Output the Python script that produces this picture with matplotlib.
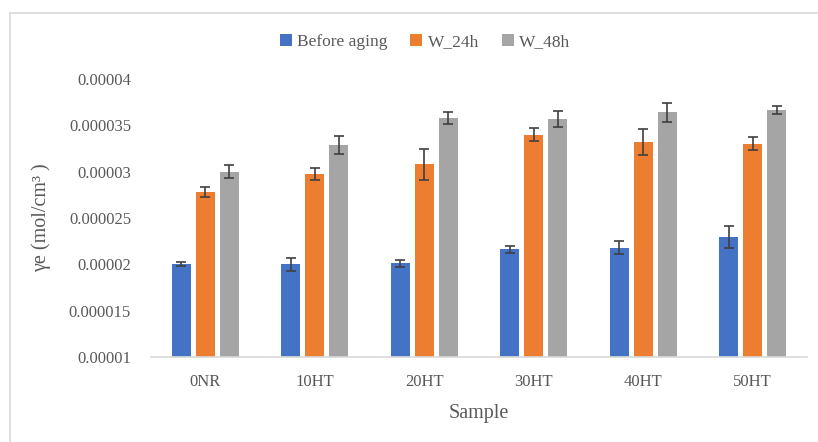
import matplotlib.pyplot as plt
import numpy as np
from matplotlib.patches import Rectangle

samples = ['0NR', '10HT', '20HT', '30HT', '40HT', '50HT']
before = [2.00e-5, 2.00e-5, 2.01e-5, 2.165e-5, 2.18e-5, 2.295e-5]
before_err = [0.2e-6, 0.7e-6, 0.4e-6, 0.38e-6, 0.7e-6, 1.24e-6]
w24 = [2.78e-5, 2.975e-5, 3.08e-5, 3.40e-5, 3.32e-5, 3.30e-5]
w24_err = [0.54e-6, 0.65e-6, 1.67e-6, 0.7e-6, 1.45e-6, 0.7e-6]
w48 = [3.00e-5, 3.29e-5, 3.58e-5, 3.57e-5, 3.64e-5, 3.665e-5]
w48_err = [0.7e-6, 1.0e-6, 0.65e-6, 0.9e-6, 1.0e-6, 0.43e-6]

plt.rcParams['font.family'] = ['Liberation Serif', 'DejaVu Serif']
txt = '#595959'

fig = plt.figure(figsize=(8.18, 4.42), dpi=100)
ax = fig.add_axes([150.5 / 818, (442 - 357) / 442, 657 / 818, 278 / 442])

# frame around the chart like the Excel export
fig.patches.append(Rectangle((10 / 818, -0.05), 1.0, (442 - 13) / 442 + 0.05,
                             transform=fig.transFigure, fill=False,
                             edgecolor='#d9d9d9', linewidth=1.2))

x = np.arange(len(samples))
w = 0.174
off = 0.22
ekw = dict(ecolor='#404040', elinewidth=1.2, capsize=3.5, capthick=1.2)
ax.bar(x - off, before, w, yerr=before_err, color='#4472c4', label='Before aging', error_kw=ekw)
ax.bar(x, w24, w, yerr=w24_err, color='#ed7d31', label='W_24h', error_kw=ekw)
ax.bar(x + off, w48, w, yerr=w48_err, color='#a5a5a5', label='W_48h', error_kw=ekw)

ax.set_xlim(-0.5, len(samples) - 0.5)
ax.set_ylim(1e-5, 4e-5)
ticks = [1e-5, 1.5e-5, 2e-5, 2.5e-5, 3e-5, 3.5e-5, 4e-5]
ax.set_yticks(ticks)
ax.set_yticklabels(['0.00001', '0.000015', '0.00002', '0.000025', '0.00003', '0.000035', '0.00004'])
ax.set_xticks(x)
ax.set_xticklabels(samples)
ax.tick_params(length=0, labelsize=12, colors=txt, pad=12)
ax.tick_params(axis='y', pad=14)

for s in ['top', 'right', 'left']:
    ax.spines[s].set_visible(False)
ax.spines['bottom'].set_color('#d9d9d9')
ax.spines['bottom'].set_linewidth(1.2)

ax.set_xlabel('Sample', fontsize=14.5, color=txt, labelpad=10)
ax.set_ylabel('γe (mol/cm³ )', fontsize=14.5, color=txt, labelpad=13)

ax.legend(loc='center', bbox_to_anchor=(425 / 818, 1 - 42 / 442), bbox_transform=fig.transFigure,
          ncol=3, frameon=False, fontsize=12.5, handlelength=0.7, handleheight=0.7,
          handletextpad=0.3, columnspacing=1.3, labelcolor=txt)

fig.savefig('out.png', dpi=100)
